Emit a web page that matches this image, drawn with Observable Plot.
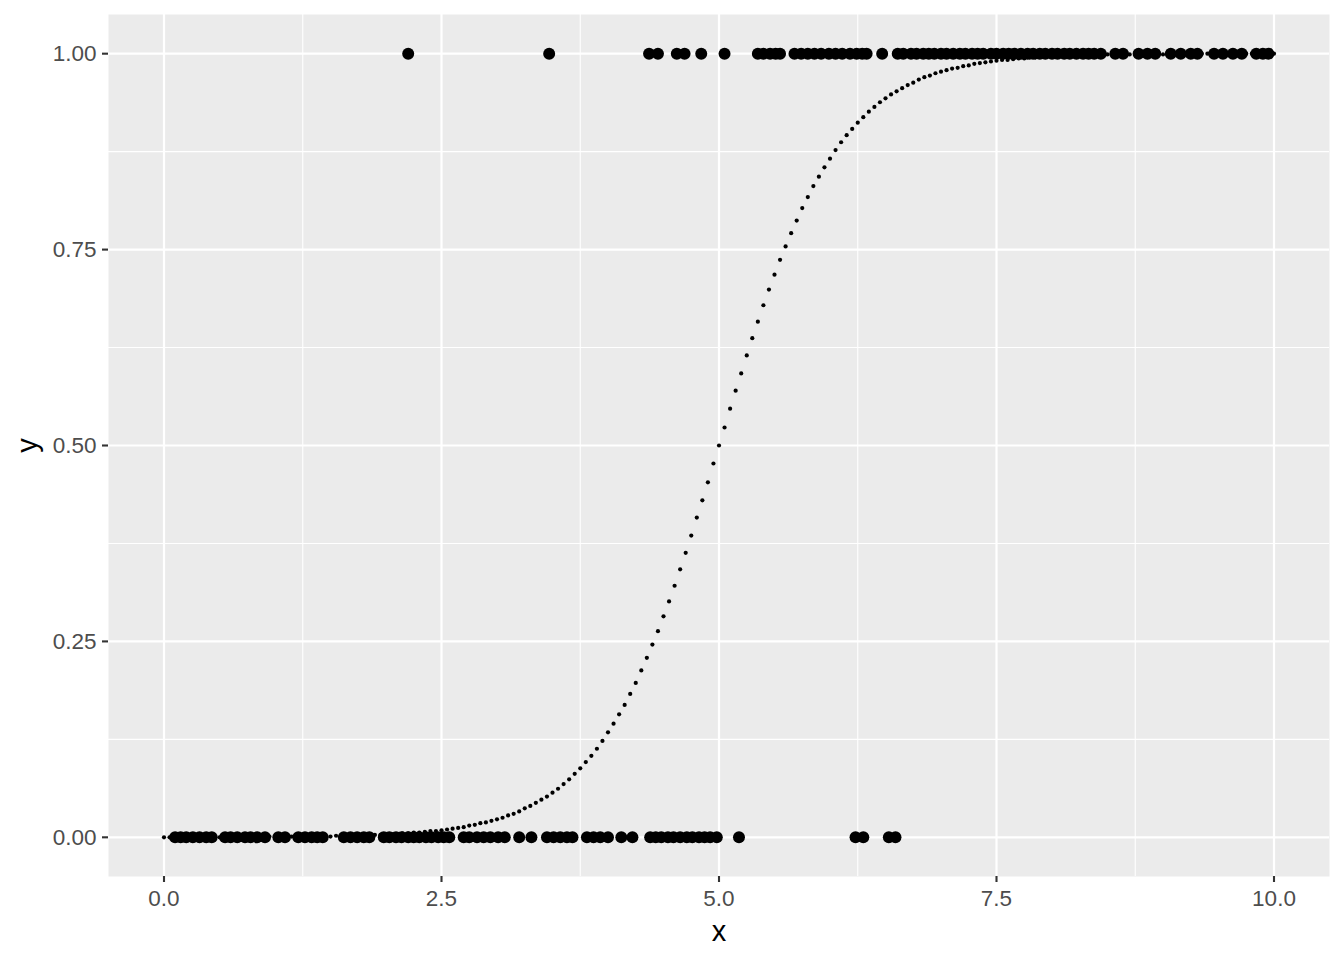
<!DOCTYPE html>
<html>
<head>
<meta charset="utf-8">
<script src="https://cdn.jsdelivr.net/npm/d3@7"></script>
<script src="https://cdn.jsdelivr.net/npm/@observablehq/plot@0.6"></script>
<style>
  html, body { margin: 0; padding: 0; background: #ffffff; }
  #chart svg { display: block; }
  g[aria-label="x-axis tick"] path, g[aria-label="y-axis tick"] path { stroke: #333333; }
  g[aria-label="x-axis tick label"], g[aria-label="y-axis tick label"] { fill: #4D4D4D; }
</style>
</head>
<body>
<div id="chart"></div>
<script>
// observed outcomes at y = 0
const xAtZero = [0.10,0.15,0.20,0.26,0.32,0.38,0.43,0.55,0.60,0.66,0.73,0.78,0.84,0.91,1.03,1.09,1.21,1.27,1.33,1.38,1.43,
  1.62,1.68,1.74,1.80,1.85,1.98,2.03,2.09,2.14,2.20,2.25,2.30,2.36,2.41,2.47,2.52,2.57,2.70,2.75,2.82,2.88,2.94,3.01,3.07,
  3.20,3.31,3.45,3.51,3.57,3.63,3.68,3.81,3.87,3.93,4.00,4.12,4.22,4.38,4.43,4.48,4.54,4.59,4.65,4.71,4.76,4.82,4.87,4.92,4.98,
  5.18,6.23,6.30,6.53,6.59];
// observed outcomes at y = 1
const xAtOne = [2.20,3.47,4.37,4.45,4.62,4.69,4.84,5.05,5.35,5.40,5.46,5.51,5.55,5.68,5.74,5.80,5.86,5.92,5.99,6.05,6.11,6.18,
  6.24,6.29,6.33,6.47,6.61,6.66,6.73,6.78,6.84,6.89,6.94,7.00,7.05,7.11,7.17,7.22,7.28,7.33,7.38,7.45,7.50,7.56,7.61,7.66,
  7.72,7.78,7.83,7.89,7.94,8.00,8.05,8.11,8.16,8.22,8.28,8.33,8.38,8.44,8.57,8.64,8.78,8.86,8.93,9.07,9.16,9.25,9.31,9.46,
  9.54,9.63,9.71,9.84,9.90,9.95];
// fitted curve
const curveX = [
  0,0.05,0.1,0.15,0.2,0.25,0.3,0.35,0.4,0.45,0.5,0.55,0.6,0.65,0.7,0.75,0.8,0.85,0.9,0.95,
  1,1.05,1.1,1.15,1.2,1.25,1.3,1.35,1.4,1.45,1.5,1.55,1.6,1.65,1.7,1.75,1.8,1.85,1.9,1.95,
  2,2.05,2.1,2.15,2.2,2.25,2.3,2.35,2.4,2.45,2.5,2.55,2.6,2.65,2.7,2.75,2.8,2.85,2.9,2.95,
  3,3.05,3.1,3.15,3.2,3.25,3.3,3.35,3.4,3.45,3.5,3.55,3.6,3.65,3.7,3.75,3.8,3.85,3.9,3.95,
  4,4.05,4.1,4.15,4.2,4.25,4.3,4.35,4.4,4.45,4.5,4.55,4.6,4.65,4.7,4.75,4.8,4.85,4.9,4.95,
  5,5.05,5.1,5.15,5.2,5.25,5.3,5.35,5.4,5.45,5.5,5.55,5.6,5.65,5.7,5.75,5.8,5.85,5.9,5.95,
  6,6.05,6.1,6.15,6.2,6.25,6.3,6.35,6.4,6.45,6.5,6.55,6.6,6.65,6.7,6.75,6.8,6.85,6.9,6.95,
  7,7.05,7.1,7.15,7.2,7.25,7.3,7.35,7.4,7.45,7.5,7.55,7.6,7.65,7.7,7.75,7.8,7.85,7.9,7.95,
  8,8.05,8.1,8.15,8.2,8.25,8.3,8.35,8.4,8.45,8.5,8.55,8.6,8.65,8.7,8.75,8.8,8.85,8.9,8.95,
  9,9.05,9.1,9.15,9.2,9.25,9.3,9.35,9.4,9.45,9.5,9.55,9.6,9.65,9.7,9.75,9.8,9.85,9.9,9.95,
  10];
const curveY = [
  0,0,0,0,0,0,0,0,0,0,0,0,0,0,0,0,0,0,0,0.001,
  0.001,0.001,0.001,0.001,0.001,0.001,0.001,0.001,0.001,0.001,0.001,0.002,0.002,0.002,0.002,0.002,0.003,0.003,0.003,0.003,
  0.004,0.004,0.004,0.005,0.005,0.006,0.006,0.007,0.008,0.008,0.009,0.010,0.011,0.012,0.013,0.015,0.016,0.018,0.019,0.021,
  0.023,0.025,0.028,0.030,0.033,0.037,0.040,0.044,0.048,0.052,0.057,0.062,0.068,0.074,0.081,0.088,0.096,0.104,0.113,0.123,
  0.134,0.145,0.157,0.169,0.183,0.197,0.213,0.229,0.246,0.263,0.282,0.301,0.321,0.342,0.363,0.385,0.408,0.430,0.453,0.477,
  0.500,0.523,0.547,0.570,0.592,0.615,0.637,0.658,0.679,0.699,0.718,0.737,0.754,0.771,0.787,0.803,0.817,0.831,0.843,0.855,
  0.866,0.877,0.887,0.896,0.904,0.912,0.919,0.926,0.932,0.938,0.943,0.948,0.952,0.956,0.960,0.963,0.967,0.970,0.972,0.975,
  0.977,0.979,0.981,0.982,0.984,0.985,0.987,0.988,0.989,0.990,0.991,0.992,0.992,0.993,0.994,0.994,0.995,0.995,0.996,0.996,
  0.996,0.997,0.997,0.997,0.997,0.998,0.998,0.998,0.998,0.998,0.999,0.999,0.999,0.999,0.999,0.999,0.999,0.999,0.999,0.999,
  0.999,0.999,1,1,1,1,1,1,1,1,1,1,1,1,1,1,1,1,1,1,
  1];
const xTicks = [0, 2.5, 5, 7.5, 10];
const xTickLabels = ["0.0", "2.5", "5.0", "7.5", "10.0"];
const xMinor = [1.25, 3.75, 6.25, 8.75];
const yTicks = [0, 0.25, 0.5, 0.75, 1];
const yTickLabels = ["0.00", "0.25", "0.50", "0.75", "1.00"];
const yMinor = [0.125, 0.375, 0.625, 0.875];
const xTitle = "x";
const yTitle = "y";

const points = [
  ...xAtZero.map(x => ({x, y: 0})),
  ...xAtOne.map(x => ({x, y: 1}))
];
const curve = curveX.map((x, i) => ({x, y: curveY[i]}));

const chart = Plot.plot({
  width: 1344,
  height: 960,
  marginLeft: 108,
  marginRight: 15,
  marginTop: 14,
  marginBottom: 84,
  style: {fontFamily: "'Liberation Sans', Arial, Helvetica, sans-serif", background: "#ffffff", overflow: "visible"},
  x: {domain: [-0.5, 10.5]},
  y: {domain: [-0.05, 1.05]},
  marks: [
    Plot.frame({fill: "#EBEBEB", stroke: "none"}),
    Plot.ruleX(xMinor, {stroke: "#ffffff", strokeWidth: 1.1}),
    Plot.ruleY(yMinor, {stroke: "#ffffff", strokeWidth: 1.1}),
    Plot.ruleX(xTicks, {stroke: "#ffffff", strokeWidth: 2.2}),
    Plot.ruleY(yTicks, {stroke: "#ffffff", strokeWidth: 2.2}),
    Plot.dot(points, {x: "x", y: "y", r: 6, fill: "#000000", stroke: "none"}),
    Plot.dot(curve, {x: "x", y: "y", r: 2.1, fill: "#000000", stroke: "none"}),
    Plot.axisX(xTicks, {
      tickFormat: (d) => xTickLabels[xTicks.indexOf(d)],
      tickSize: 6, tickPadding: 8, fontSize: 22.5, strokeWidth: 2.1,
      stroke: "#333333", fill: "#4D4D4D", label: null
    }),
    Plot.axisY(yTicks, {
      tickFormat: (d) => yTickLabels[yTicks.indexOf(d)],
      tickSize: 6, tickPadding: 6, fontSize: 22.5, strokeWidth: 2.1,
      stroke: "#333333", fill: "#4D4D4D", label: null
    }),
    Plot.text([xTitle], {text: d => d, frameAnchor: "bottom", textAnchor: "middle", lineAnchor: "bottom", dy: 64, fontSize: 29, fill: "#000000"}),
    Plot.text([yTitle], {text: d => d, frameAnchor: "left", textAnchor: "middle", lineAnchor: "bottom", dx: -72, rotate: -90, fontSize: 29, fill: "#000000"})
  ]
});
document.getElementById("chart").appendChild(chart);
</script>
</body>
</html>
